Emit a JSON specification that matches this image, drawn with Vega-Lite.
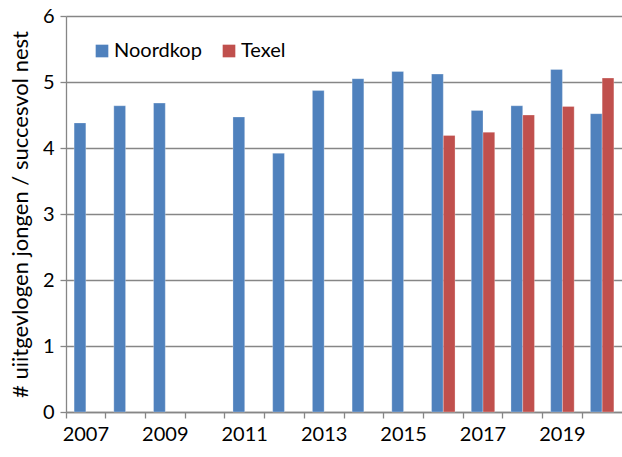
{
  "$schema": "https://vega.github.io/schema/vega-lite/v6.json",
  "width": 556,
  "height": 396,
  "autosize": {"type": "none"},
  "padding": {"left": 66, "top": 16, "right": 0, "bottom": 45},
  "background": "white",
  "config": {
    "font": "Lato",
    "view": {"stroke": null}
  },
  "data": {
    "values": [
      {"year": "2007", "series": "Noordkop", "value": 4.38},
      {"year": "2008", "series": "Noordkop", "value": 4.64},
      {"year": "2009", "series": "Noordkop", "value": 4.68},
      {"year": "2011", "series": "Noordkop", "value": 4.47},
      {"year": "2012", "series": "Noordkop", "value": 3.92},
      {"year": "2013", "series": "Noordkop", "value": 4.87},
      {"year": "2014", "series": "Noordkop", "value": 5.05},
      {"year": "2015", "series": "Noordkop", "value": 5.16},
      {"year": "2016", "series": "Noordkop", "value": 5.12},
      {"year": "2016", "series": "Texel", "value": 4.19},
      {"year": "2017", "series": "Noordkop", "value": 4.57},
      {"year": "2017", "series": "Texel", "value": 4.24},
      {"year": "2018", "series": "Noordkop", "value": 4.64},
      {"year": "2018", "series": "Texel", "value": 4.5},
      {"year": "2019", "series": "Noordkop", "value": 5.19},
      {"year": "2019", "series": "Texel", "value": 4.63},
      {"year": "2020", "series": "Noordkop", "value": 4.52},
      {"year": "2020", "series": "Texel", "value": 5.06}
    ]
  },
  "mark": {"type": "bar", "stroke": "#ffffff", "strokeOpacity": 0.35, "strokeWidth": 0.8},
  "encoding": {
    "x": {
      "field": "year",
      "type": "ordinal",
      "scale": {
        "domain": ["2007", "2008", "2009", "2010", "2011", "2012", "2013", "2014", "2015", "2016", "2017", "2018", "2019", "2020"],
        "paddingInner": 0,
        "paddingOuter": 0
      },
      "axis": {
        "title": null,
        "labelAngle": 0,
        "bandPosition": 0,
        "labelOverlap": false,
        "labelExpr": "toNumber(datum.value) % 2 == 1 ? datum.value : ''",
        "labelFontSize": 20,
        "labelColor": "#000000",
        "labelPadding": 6,
        "domainColor": "#868686",
        "domainWidth": 1.3,
        "tickColor": "#868686",
        "tickWidth": 1.3,
        "tickSize": 6,
        "grid": false
      }
    },
    "xOffset": {
      "field": "series",
      "type": "nominal",
      "scale": {"domain": ["Noordkop", "Texel"], "paddingInner": 0, "paddingOuter": 0.69}
    },
    "y": {
      "field": "value",
      "type": "quantitative",
      "scale": {"domain": [0, 6], "nice": false},
      "axis": {
        "title": "# uiitgevlogen jongen / succesvol nest",
        "titleFontSize": 22,
        "titleFontWeight": "normal",
        "titleColor": "#000000",
        "titlePadding": 10,
        "values": [0, 1, 2, 3, 4, 5, 6],
        "labelFontSize": 20,
        "labelColor": "#000000",
        "labelPadding": 6,
        "domainColor": "#868686",
        "domainWidth": 1.3,
        "tickColor": "#868686",
        "tickWidth": 1.3,
        "tickSize": 6,
        "grid": true,
        "gridColor": "#868686",
        "gridWidth": 1.3
      }
    },
    "color": {
      "field": "series",
      "type": "nominal",
      "scale": {"domain": ["Noordkop", "Texel"], "range": ["#4F81BD", "#C0504D"]},
      "legend": {
        "title": null,
        "orient": "none",
        "direction": "horizontal",
        "legendX": 26,
        "legendY": 25,
        "padding": 0,
        "symbolType": "square",
        "symbolSize": 160,
        "symbolStrokeWidth": 0,
        "labelFontSize": 20,
        "labelColor": "#000000",
        "labelOffset": 2,
        "columnPadding": 17
      }
    }
  }
}
